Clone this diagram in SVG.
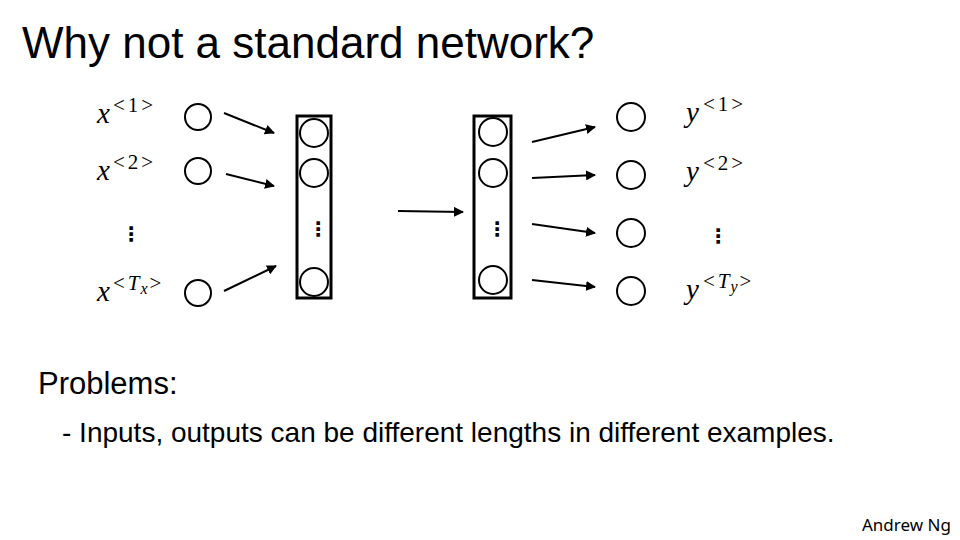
<svg xmlns="http://www.w3.org/2000/svg" width="960" height="540" viewBox="0 0 960 540">
<style>
.n{fill:none;stroke:#000;stroke-width:2}
.box{fill:none;stroke:#000;stroke-width:3}
.c{stroke:#000;stroke-width:2;fill:none;marker-end:url(#ah)}
.m{font-family:"Liberation Serif",serif;font-style:italic;font-size:29px}
.s{font-family:"Liberation Serif",serif;font-style:normal;font-size:21px;letter-spacing:3px}
.si{font-family:"Liberation Serif",serif;font-style:italic;font-size:21px;letter-spacing:1px}
.ss{font-family:"Liberation Serif",serif;font-style:italic;font-size:16px;letter-spacing:2px}
.d{font-family:"DejaVu Sans",sans-serif;font-size:20px;font-weight:bold}
.t{font-family:"Liberation Sans",Arial,sans-serif}
</style>
<defs>
<marker id="ah" viewBox="0 0 10 10" refX="9" refY="5" markerWidth="5" markerHeight="5" orient="auto" markerUnits="strokeWidth">
<path d="M0,0 L10,5 L0,10 z" fill="#000"/>
</marker>
</defs>
<rect width="960" height="540" fill="#fff"/>
<text class="t" x="22" y="58" font-size="44">Why not a standard network?</text>

<g id="labels-x">
<text class="m" x="97" y="123">x<tspan class="s" dx="3" dy="-11">&lt;1&gt;</tspan></text>
<text class="m" x="97" y="180">x<tspan class="s" dx="3" dy="-11">&lt;2&gt;</tspan></text>
<text class="d" x="121" y="241">⋮</text>
<text class="m" x="97" y="301">x<tspan class="s" dx="3" dy="-11">&lt;</tspan><tspan class="si">T</tspan><tspan class="ss" dy="4">x</tspan><tspan class="s" dy="-4">&gt;</tspan></text>
</g>

<g id="inputs">
<circle class="n" cx="198" cy="117" r="13"/>
<circle class="n" cx="198" cy="171" r="13"/>
<circle class="n" cx="198" cy="293" r="13"/>
</g>

<g id="hidden1">
<rect class="box" x="297" y="116" width="34" height="182"/>
<circle class="n" cx="314" cy="133" r="14"/>
<circle class="n" cx="314" cy="173" r="14"/>
<text class="d" x="308" y="236" font-size="16">⋮</text>
<circle class="n" cx="314" cy="282" r="14"/>
</g>

<g id="hidden2">
<rect class="box" x="474" y="116" width="37" height="182"/>
<circle class="n" cx="493" cy="132" r="14"/>
<circle class="n" cx="493" cy="173" r="14"/>
<text class="d" x="487" y="236" font-size="16">⋮</text>
<circle class="n" cx="493" cy="280" r="14"/>
</g>

<g id="outputs">
<circle class="n" cx="631" cy="117" r="14"/>
<circle class="n" cx="631" cy="175" r="14"/>
<circle class="n" cx="631" cy="233" r="14"/>
<circle class="n" cx="631" cy="291" r="14"/>
</g>

<g id="labels-y">
<text class="m" x="686" y="122">y<tspan class="s" dx="4" dy="-11">&lt;1&gt;</tspan></text>
<text class="m" x="686" y="181">y<tspan class="s" dx="4" dy="-11">&lt;2&gt;</tspan></text>
<text class="d" x="708" y="243">⋮</text>
<text class="m" x="686" y="299">y<tspan class="s" dx="4" dy="-11">&lt;</tspan><tspan class="si">T</tspan><tspan class="ss" dy="4">y</tspan><tspan class="s" dy="-4">&gt;</tspan></text>
</g>

<g id="connectors">
<line class="c" x1="224" y1="113" x2="274" y2="133"/>
<line class="c" x1="226" y1="174" x2="274" y2="186"/>
<line class="c" x1="224" y1="291" x2="276" y2="266"/>
<line class="c" x1="398" y1="211" x2="463" y2="212"/>
<line class="c" x1="532" y1="142" x2="595" y2="127"/>
<line class="c" x1="532" y1="178" x2="595" y2="175"/>
<line class="c" x1="532" y1="224" x2="595" y2="233"/>
<line class="c" x1="532" y1="280" x2="595" y2="287"/>
</g>

<text class="t" x="38" y="394" font-size="31">Problems:</text>
<text class="t" x="62" y="442" font-size="28">- Inputs, outputs can be different lengths in different examples.</text>
<text x="862" y="531" font-family="'Noto Sans',sans-serif" font-size="17">Andrew Ng</text>
</svg>
